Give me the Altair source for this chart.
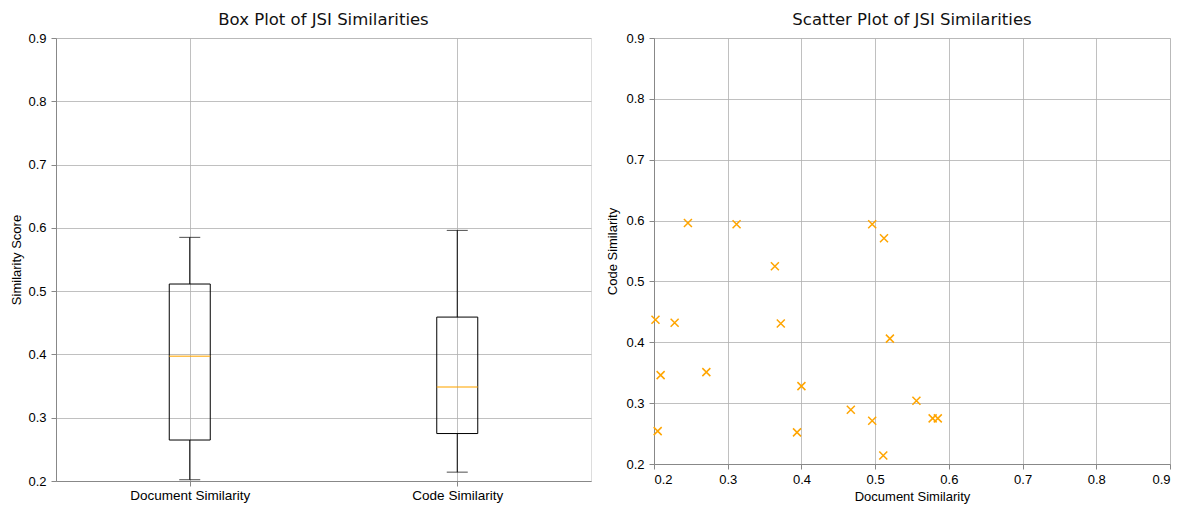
import altair as alt
import pandas as pd

# ---- data ----
doc_sim = [0.246, 0.312, 0.496, 0.512, 0.364, 0.202, 0.228, 0.372, 0.520, 0.209,
           0.271, 0.400, 0.467, 0.496, 0.556, 0.578, 0.585, 0.205, 0.394, 0.511]
code_sim = [0.596, 0.594, 0.594, 0.571, 0.525, 0.437, 0.432, 0.431, 0.406, 0.346,
            0.351, 0.328, 0.289, 0.271, 0.304, 0.275, 0.275, 0.254, 0.252, 0.214]
categories = ["Document Similarity", "Code Similarity"]
tick_values = [0.2, 0.3, 0.4, 0.5, 0.6, 0.7, 0.8, 0.9]

df = pd.DataFrame({"Document Similarity": doc_sim, "Code Similarity": code_sim})

FONT = "DejaVu Sans"
GRID = "#b0b0b0"
TXT = "#222222"
TICK_FS = 13
TITLE_FS = 13

# ---------------- box plot ----------------
stats = (
    alt.Chart(df)
    .transform_fold(categories, as_=["metric", "value"])
    .transform_aggregate(
        lo="min(value)", hi="max(value)", q1="q1(value)", q3="q3(value)",
        med="median(value)", groupby=["metric"],
    )
)

xbox = alt.X(
    "metric:N", sort=categories,
    scale=alt.Scale(type="point", padding=0.5),
    axis=alt.Axis(title=None, grid=True, labelAngle=0, labelFontSize=13.5,
                  gridColor=GRID, gridWidth=0.8, labelPadding=2),
)
yscale = alt.Scale(domain=[0.2, 0.9], nice=False, zero=False)
ybox_axis = alt.Axis(values=tick_values, format=".1f", title="Similarity Score",
                     grid=True, gridColor=GRID, gridWidth=0.8, titleFontSize=TITLE_FS,
                     titleFontWeight="normal", labelFontSize=TICK_FS, labelPadding=5,
                     titlePadding=4)

lower = stats.mark_rule(color="black", strokeWidth=1).encode(
    x=xbox, y=alt.Y("lo:Q", scale=yscale, axis=ybox_axis), y2="q1:Q")
upper = stats.mark_rule(color="black", strokeWidth=1).encode(
    x=xbox, y=alt.Y("q3:Q", scale=yscale), y2="hi:Q")
box = stats.mark_bar(size=41, filled=False, stroke="black", strokeWidth=1).encode(
    x=xbox, y=alt.Y("q1:Q", scale=yscale), y2="q3:Q")
cap_lo = stats.mark_tick(size=21, thickness=1, color="black").encode(
    x=xbox, y=alt.Y("lo:Q", scale=yscale))
cap_hi = stats.mark_tick(size=21, thickness=1, color="black").encode(
    x=xbox, y=alt.Y("hi:Q", scale=yscale))
median = stats.mark_tick(size=41, thickness=1.5, color="orange").encode(
    x=xbox, y=alt.Y("med:Q", scale=yscale))

box_chart = alt.layer(lower, upper, box, cap_lo, cap_hi, median).properties(
    width=535, height=443,
    title=alt.TitleParams("Box Plot of JSI Similarities", fontSize=16.5, font=FONT,
                          fontWeight="normal", anchor="middle", offset=4, color="#111"),
)

# ---------------- scatter ----------------
xscale = alt.Scale(domain=[0.2, 0.9], nice=False, zero=False)
scatter = alt.Chart(df).mark_point(
    shape="M-1,-1L1,1M-1,1L1,-1", size=64, filled=False, color="orange",
    strokeWidth=1.5, opacity=1,
).encode(
    x=alt.X("Document Similarity:Q", scale=xscale,
            axis=alt.Axis(values=tick_values, format=".1f", title="Document Similarity",
                          grid=True, gridColor=GRID, gridWidth=0.8, labelFontSize=TICK_FS,
                          titleFontSize=TITLE_FS, titleFontWeight="normal", titlePadding=4,
                          labelPadding=4)),
    y=alt.Y("Code Similarity:Q", scale=yscale,
            axis=alt.Axis(values=tick_values, format=".1f", title="Code Similarity",
                          grid=True, gridColor=GRID, gridWidth=0.8, labelFontSize=TICK_FS,
                          titleFontSize=TITLE_FS, titleFontWeight="normal", labelPadding=5,
                          titlePadding=6)),
).properties(
    width=516, height=426,
    title=alt.TitleParams("Scatter Plot of JSI Similarities", fontSize=16.5, font=FONT,
                          fontWeight="normal", anchor="middle", offset=4, color="#111"),
)

chart = alt.hconcat(box_chart, scatter, spacing=14).properties(
    padding={"left": 2, "top": 3, "right": 5, "bottom": 0},
).configure_view(
    stroke="black", strokeWidth=1,
).configure_axis(
    domainColor="black", tickColor="black", tickSize=4, labelColor=TXT,
    titleColor=TXT, labelFont=FONT, titleFont=FONT, titleFontWeight="normal",
).configure(background="white")

chart.save("out.html", embed_options={"renderer": "svg", "actions": False})
